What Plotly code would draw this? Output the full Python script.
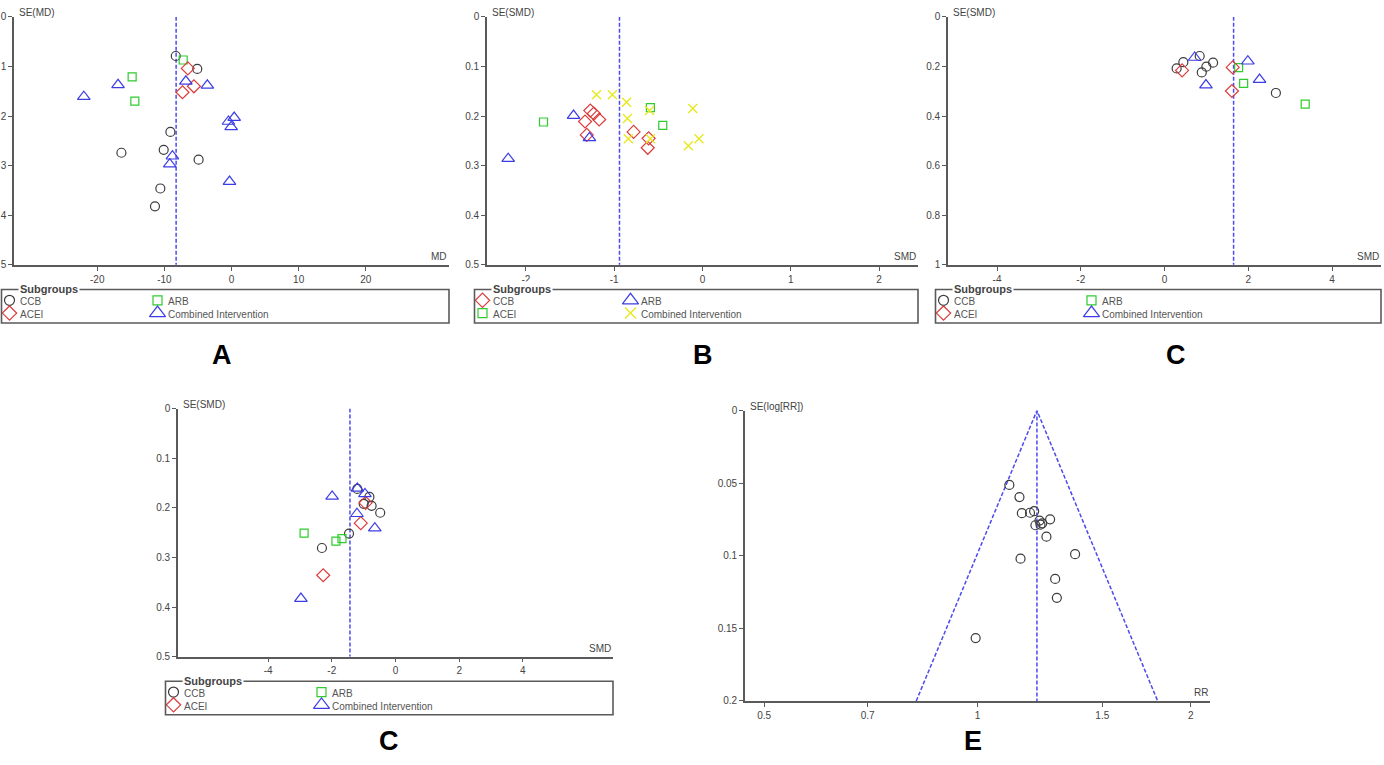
import numpy as np
import plotly.graph_objects as go

W, H = 1384, 765

# ---- panel A : MD ----
a_ccb_md = [-8.3, -5.1, -9.1, -16.4, -10.1, -4.9, -10.6, -11.4]
a_ccb_se = [0.79, 1.05, 2.32, 2.74, 2.68, 2.88, 3.46, 3.82]
a_arb_md = [-7.2, -14.8, -14.4]
a_arb_se = [0.87, 1.21, 1.70]
a_acei_md = [-6.5, -5.6, -7.3]
a_acei_se = [1.04, 1.40, 1.52]
a_comb_md = [-22.0, -16.9, -6.8, -3.6, 0.4, -0.45, -0.05, -8.8, -9.2, -0.3]
a_comb_se = [1.61, 1.37, 1.30, 1.38, 2.03, 2.11, 2.22, 2.81, 2.97, 3.32]
a_pooled = -8.25

# ---- panel B : SMD ----
b_ccb_smd = [-1.27, -1.23, -1.17, -1.33, -1.31, -0.78, -0.61, -0.62]
b_ccb_se = [0.189, 0.195, 0.207, 0.211, 0.238, 0.232, 0.245, 0.264]
b_arb_smd = [-1.46, -1.28, -2.20]
b_arb_se = [0.199, 0.244, 0.286]
b_acei_smd = [-1.80, -0.59, -0.45]
b_acei_se = [0.212, 0.183, 0.219]
b_comb_smd = [-1.20, -1.02, -0.86, -0.85, -0.84, -0.60, -0.59, -0.11, -0.16, -0.04]
b_comb_se = [0.157, 0.157, 0.172, 0.205, 0.246, 0.189, 0.246, 0.185, 0.260, 0.246]
b_pooled = -0.94

# ---- panel C (top right) : SMD ----
c_ccb_smd = [0.84, 0.45, 0.29, 1.00, 1.16, 0.89, 2.66]
c_ccb_se = [0.158, 0.183, 0.208, 0.201, 0.185, 0.224, 0.307]
c_acei_smd = [0.42, 1.63, 1.61]
c_acei_se = [0.216, 0.204, 0.299]
c_arb_smd = [1.77, 1.89, 3.36]
c_arb_se = [0.205, 0.268, 0.352]
c_comb_smd = [0.72, 1.99, 2.27, 0.99]
c_comb_se = [0.164, 0.179, 0.253, 0.275]
c_pooled = 1.65

# ---- panel D (bottom left, labelled C) : SMD ----
d_ccb_smd = [-1.20, -0.82, -1.00, -0.75, -0.48, -1.46, -2.31]
d_ccb_se = [0.162, 0.178, 0.192, 0.196, 0.210, 0.252, 0.281]
d_acei_smd = [-0.94, -1.09, -2.27]
d_acei_se = [0.190, 0.231, 0.336]
d_arb_smd = [-2.87, -1.68, -1.87]
d_arb_se = [0.251, 0.262, 0.267]
d_comb_smd = [-1.20, -1.99, -0.96, -1.21, -0.65, -2.97]
d_comb_se = [0.161, 0.177, 0.172, 0.212, 0.241, 0.383]
d_pooled = -1.43

# ---- panel E : RR ----
e_rr = [1.109, 1.146, 1.155, 1.186, 1.202, 1.223, 1.266, 1.207, 1.227, 1.234,
        1.251, 1.373, 1.150, 1.287, 1.294, 0.994]
e_se = [0.0512, 0.0596, 0.0707, 0.0704, 0.0693, 0.0758, 0.0749, 0.079, 0.0786,
        0.0777, 0.0869, 0.0989, 0.102, 0.116, 0.129, 0.1567]
e_pooled = 1.213
e_se_max = 0.2

FONT = "Arial, Liberation Sans, sans-serif"
AXC = "#5a5a5a"
TXC = "#444444"
DASH = "#4b4bf0"

GRAY = "#3c3c3c"
GREEN = "#2ecc2e"
RED = "#dc3c3c"
BLUE = "#3c3ce6"
YELLOW = "#e8e820"

STY = {
    "circle": dict(symbol="circle-open", size=9, color=GRAY, line=dict(width=1.2, color=GRAY)),
    "square": dict(symbol="square-open", size=8, color=GREEN, line=dict(width=1.2, color=GREEN)),
    "diamond": dict(symbol="diamond-open", size=10, color=RED, line=dict(width=1.2, color=RED)),
    "triangle": dict(symbol="triangle-up-open", size=11, color=BLUE, line=dict(width=1.2, color=BLUE)),
    "x": dict(symbol="x-thin-open", size=9, color=YELLOW, line=dict(width=1.4, color=YELLOW)),
}
LEG_SIZE = {"circle": 10, "square": 9, "diamond": 11, "triangle": 14, "x": 11}

panels = [
    dict(box=(14, 11, 449, 263), xr=[-32.4, 32.4], yr=[5, 0],
         xt=[-20, -10, 0, 10, 20], yt=[0, 1, 2, 3, 4, 5],
         ytt=["0", "1", "2", "3", "4", "5"], ytitle="SE(MD)", xtitle="MD",
         pooled=a_pooled, label="A", lab_xy=(222, 355),
         series=[("CCB", "circle", a_ccb_md, a_ccb_se), ("ARB", "square", a_arb_md, a_arb_se),
                 ("ACEI", "diamond", a_acei_md, a_acei_se),
                 ("Combined Intervention", "triangle", a_comb_md, a_comb_se)]),
    dict(box=(487, 11, 918, 263), xr=[-2.44, 2.44], yr=[0.5, 0],
         xt=[-2, -1, 0, 1, 2], yt=[0, 0.1, 0.2, 0.3, 0.4, 0.5],
         ytt=["0", "0.1", "0.2", "0.3", "0.4", "0.5"], ytitle="SE(SMD)", xtitle="SMD",
         pooled=b_pooled, label="B", lab_xy=(703, 355),
         series=[("CCB", "diamond", b_ccb_smd, b_ccb_se), ("ARB", "triangle", b_arb_smd, b_arb_se),
                 ("ACEI", "square", b_acei_smd, b_acei_se),
                 ("Combined Intervention", "x", b_comb_smd, b_comb_se)]),
    dict(box=(948, 11, 1381, 263), xr=[-5.17, 5.17], yr=[1, 0],
         xt=[-4, -2, 0, 2, 4], yt=[0, 0.2, 0.4, 0.6, 0.8, 1],
         ytt=["0", "0.2", "0.4", "0.6", "0.8", "1"], ytitle="SE(SMD)", xtitle="SMD",
         pooled=c_pooled, label="C", lab_xy=(1176, 355),
         series=[("CCB", "circle", c_ccb_smd, c_ccb_se), ("ARB", "square", c_arb_smd, c_arb_se),
                 ("ACEI", "diamond", c_acei_smd, c_acei_se),
                 ("Combined Intervention", "triangle", c_comb_smd, c_comb_se)]),
    dict(box=(178, 409, 613, 661), xr=[-6.83, 6.83], yr=[0.5, 0],
         xt=[-4, -2, 0, 2, 4], yt=[0, 0.1, 0.2, 0.3, 0.4, 0.5],
         ytt=["0", "0.1", "0.2", "0.3", "0.4", "0.5"], ytitle="SE(SMD)", xtitle="SMD",
         pooled=d_pooled, label="C", lab_xy=(389, 747),
         series=[("CCB", "circle", d_ccb_smd, d_ccb_se), ("ARB", "square", d_arb_smd, d_arb_se),
                 ("ACEI", "diamond", d_acei_smd, d_acei_se),
                 ("Combined Intervention", "triangle", d_comb_smd, d_comb_se)]),
    dict(box=(745, 411, 1210, 706), xr=[-0.328, 0.328], yr=[0.2, 0], log=True,
         xt=[0.5, 0.7, 1, 1.5, 2], yt=[0, 0.05, 0.1, 0.15, 0.2],
         ytt=["0", "0.05", "0.1", "0.15", "0.2"], ytitle="SE(log[RR])", xtitle="RR",
         pooled=e_pooled, label="E", lab_xy=(973, 747),
         series=[(None, "circle", e_rr, e_se)]),
]

fig = go.Figure()
layout = dict(width=W, height=H, margin=dict(l=0, r=0, t=0, b=0),
              paper_bgcolor="white", plot_bgcolor="white", showlegend=False,
              font=dict(family=FONT, color=TXC, size=10))
annotations = []
shapes = []


def px(x):
    return x / W


def py(y):
    return 1 - y / H


def ax_id(k):
    return "" if k == 1 else str(k)


n_leg = 0
for i, p in enumerate(panels, start=1):
    s = ax_id(i)
    xa, ya = "x" + s, "y" + s
    x0, y0, x1, y1 = p["box"]
    axis_common = dict(showline=True, linecolor=AXC, linewidth=1.6, ticks="outside",
                       ticklen=4, tickcolor=AXC, tickwidth=1.3, showgrid=False,
                       zeroline=False, fixedrange=True,
                       tickfont=dict(family=FONT, size=10, color=TXC))
    layout["xaxis" + s] = dict(domain=[px(x0), px(x1)], anchor=ya, range=p["xr"],
                               type="log" if p.get("log") else "linear",
                               tickvals=p["xt"], ticktext=[str(v) for v in p["xt"]],
                               **axis_common)
    layout["yaxis" + s] = dict(domain=[py(y1), py(y0)], anchor=xa, range=p["yr"],
                               tickvals=p["yt"], ticktext=p["ytt"], **axis_common)

    # pooled estimate line (and funnel for panel E)
    ymax = p["yr"][0]
    fig.add_trace(go.Scatter(x=[p["pooled"], p["pooled"]], y=[0, ymax], mode="lines",
                             line=dict(color=DASH, width=1.5, dash="4px,2px"),
                             xaxis=xa, yaxis=ya, hoverinfo="skip"))
    if p.get("log"):
        half = 1.96 * e_se_max / np.log(10)
        lo = 10 ** (np.log10(e_pooled) - half)
        hi = 10 ** (np.log10(e_pooled) + half)
        fig.add_trace(go.Scatter(x=[lo, e_pooled, hi], y=[e_se_max, 0, e_se_max], mode="lines",
                                 line=dict(color=DASH, width=1.5, dash="4px,2px"),
                                 xaxis=xa, yaxis=ya, hoverinfo="skip"))

    for name, sym, xs, ys in p["series"]:
        fig.add_trace(go.Scatter(x=xs, y=ys, mode="markers", marker=STY[sym],
                                 xaxis=xa, yaxis=ya, name=name or "", cliponaxis=False))

    annotations.append(dict(text=p["ytitle"], xref=xa + " domain", yref=ya + " domain",
                            x=0, y=1, xanchor="left", yanchor="bottom", xshift=3, yshift=-3,
                            showarrow=False, font=dict(size=10, color=TXC)))
    annotations.append(dict(text=p["xtitle"], xref=xa + " domain", yref=ya + " domain",
                            x=1, y=0, xanchor="right", yanchor="bottom", xshift=0, yshift=1,
                            showarrow=False, font=dict(size=10, color=TXC)))
    lx, ly = p["lab_xy"]
    annotations.append(dict(text=f"<b>{p['label']}</b>", xref="paper", yref="paper",
                            x=px(lx), y=py(ly), xanchor="center", yanchor="middle",
                            showarrow=False, font=dict(size=27, color="black", family=FONT)))

    # subgroup legend box
    if p["series"][0][0] is None:
        continue
    j = 6 + n_leg
    n_leg += 1
    bl, br = x0 - 12.5, x1
    bt, bb = y1 + 25, y1 + 59
    bw, bh = br - bl, bb - bt
    lxa, lya = f"x{j}", f"y{j}"
    layout[f"xaxis{j}"] = dict(domain=[px(bl), px(br)], range=[0, bw], visible=False,
                               anchor=lya, fixedrange=True)
    layout[f"yaxis{j}"] = dict(domain=[py(bb), py(bt)], range=[bh, 0], visible=False,
                               anchor=lxa, fixedrange=True)
    shapes.append(dict(type="rect", xref="paper", yref="paper", x0=px(bl), x1=px(br),
                       y0=py(bb), y1=py(bt), line=dict(color=AXC, width=1.6)))
    annotations.append(dict(text="<b>Subgroups</b>", xref=lxa, yref=lya, x=16, y=0,
                            xanchor="left", yanchor="middle", showarrow=False,
                            bgcolor="white", borderpad=1, font=dict(size=11, color=TXC)))
    slots = [(8, 11), (156, 11), (8, 24), (156, 24)]
    for (name, sym, _, _), (mx, my) in zip(p["series"], slots):
        st = dict(STY[sym])
        st["size"] = LEG_SIZE[sym]
        fig.add_trace(go.Scatter(x=[mx], y=[my], mode="markers", marker=st,
                                 xaxis=lxa, yaxis=lya, hoverinfo="skip", cliponaxis=False))
        annotations.append(dict(text=name, xref=lxa, yref=lya, x=mx + 8, y=my + 1.5,
                                xanchor="left", yanchor="middle", showarrow=False,
                                font=dict(size=10, color="#555555")))

layout["annotations"] = annotations
layout["shapes"] = shapes
fig.update_layout(**layout)
# the page body has a default 8px margin; drop it so the figure fills the window
fig.write_html("out.html", config={"displayModeBar": False},
               post_script="document.body.style.margin='0px';")
